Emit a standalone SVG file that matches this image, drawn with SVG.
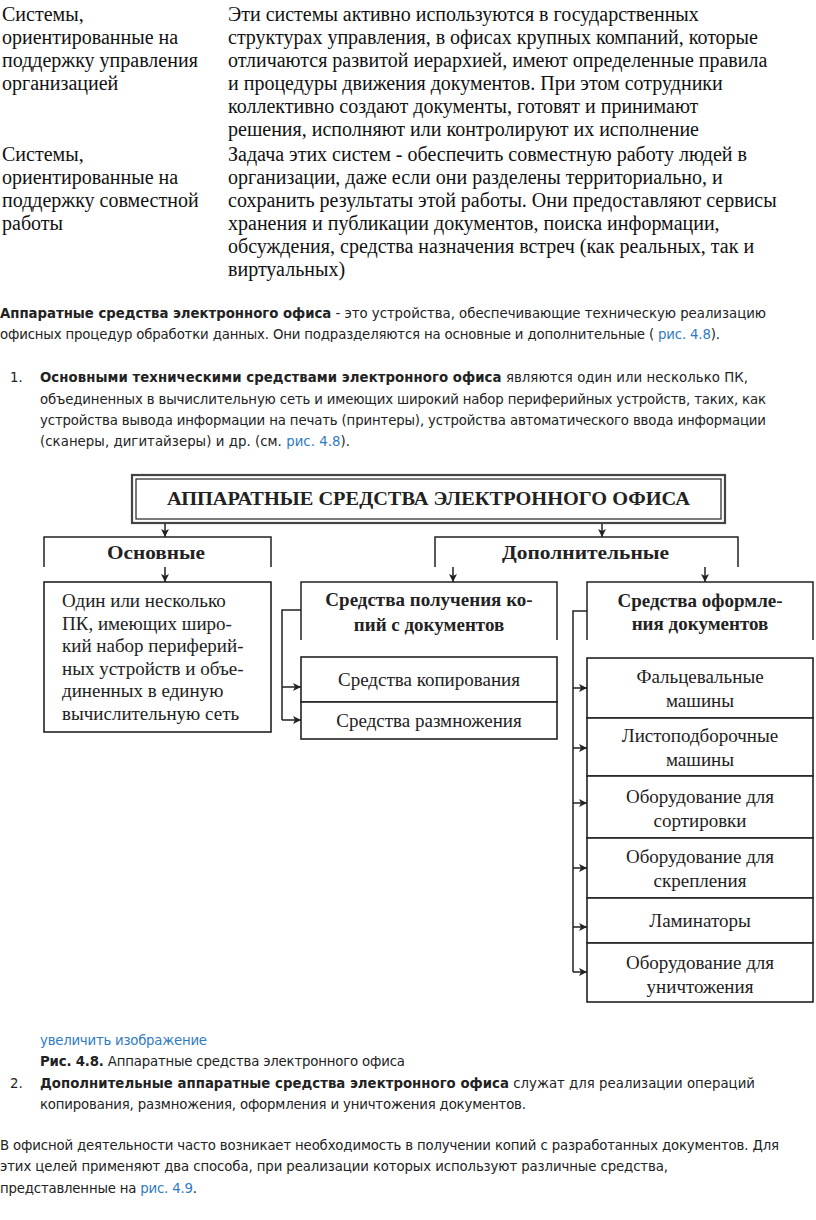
<svg xmlns="http://www.w3.org/2000/svg" width="816" height="1220" viewBox="0 0 816 1220">
<style>
.t{font-family:"Liberation Serif","Times New Roman",serif;font-size:20px;fill:#111}
.p{font-family:"DejaVu Sans",Verdana,sans-serif;font-size:13.3px;fill:#222}
.b{font-weight:bold}
.lnk{fill:#2f7bbf}
.d{font-family:"Liberation Serif","Times New Roman",serif;font-size:19px;fill:#222}
.dc{text-anchor:middle}
.ln{fill:none;stroke:#222;stroke-width:1.5}
.ar{fill:none;stroke:#222;stroke-width:1.5;marker-end:url(#ah)}
.bx{fill:#fff;stroke:#222;stroke-width:1.6}
</style>
<defs>
<marker id="ah" markerUnits="userSpaceOnUse" markerWidth="9" markerHeight="8" refX="8" refY="4" orient="auto">
<path d="M0,0 L8,4 L0,8 L2,4 z" fill="#222"/>
</marker>
</defs>
<rect width="816" height="1220" fill="#fff"/>

<g id="table-text">
<text class="t" x="2" y="21">Системы,</text>
<text class="t" x="2" y="44">ориентированные на</text>
<text class="t" x="2" y="67">поддержку управления</text>
<text class="t" x="2" y="90">организацией</text>
<text class="t" x="228" y="21">Эти системы активно используются в государственных</text>
<text class="t" x="228" y="44">структурах управления, в офисах крупных компаний, которые</text>
<text class="t" x="228" y="67">отличаются развитой иерархией, имеют определенные правила</text>
<text class="t" x="228" y="90">и процедуры движения документов. При этом сотрудники</text>
<text class="t" x="228" y="113">коллективно создают документы, готовят и принимают</text>
<text class="t" x="228" y="136">решения, исполняют или контролируют их исполнение</text>
<text class="t" x="2" y="161">Системы,</text>
<text class="t" x="2" y="184">ориентированные на</text>
<text class="t" x="2" y="207">поддержку совместной</text>
<text class="t" x="2" y="230">работы</text>
<text class="t" x="228" y="161">Задача этих систем - обеспечить совместную работу людей в</text>
<text class="t" x="228" y="184">организации, даже если они разделены территориально, и</text>
<text class="t" x="228" y="207">сохранить результаты этой работы. Они предоставляют сервисы</text>
<text class="t" x="228" y="230">хранения и публикации документов, поиска информации,</text>
<text class="t" x="228" y="253">обсуждения, средства назначения встреч (как реальных, так и</text>
<text class="t" x="228" y="276">виртуальных)</text>
</g>

<g id="para-text">
<text class="p" x="0" y="318" textLength="766"><tspan class="b">Аппаратные средства электронного офиса</tspan> - это устройства, обеспечивающие техническую реализацию</text>
<text class="p" x="0" y="339" textLength="720">офисных процедур обработки данных. Они подразделяются на основные и дополнительные ( <tspan class="lnk">рис. 4.8</tspan>).</text>
<text class="p" x="10" y="382">1.</text>
<text class="p" x="40" y="382" textLength="708"><tspan class="b">Основными техническими средствами электронного офиса</tspan> являются один или несколько ПК,</text>
<text class="p" x="40" y="404" textLength="726">объединенных в вычислительную сеть и имеющих широкий набор периферийных устройств, таких, как</text>
<text class="p" x="40" y="425" textLength="726">устройства вывода информации на печать (принтеры), устройства автоматического ввода информации</text>
<text class="p" x="40" y="446" textLength="310">(сканеры, дигитайзеры) и др. (см. <tspan class="lnk">рис. 4.8</tspan>).</text>
</g>

<g id="connectors">
<line class="ar" x1="165" y1="523" x2="165" y2="537"/>
<line class="ar" x1="602" y1="523" x2="602" y2="537"/>
<polyline class="ln" points="44,567 44,537 271,537 271,567"/>
<polyline class="ln" points="435,567 435,537 738,537 738,567"/>
<line class="ar" x1="165" y1="567" x2="165" y2="582"/>
<line class="ar" x1="453" y1="567" x2="453" y2="582"/>
<line class="ar" x1="705" y1="567" x2="705" y2="582"/>
<polyline class="ln" points="301,610 282,610 282,720"/>
<line class="ar" x1="282" y1="687" x2="301" y2="687"/>
<line class="ar" x1="282" y1="720" x2="301" y2="720"/>
<polyline class="ln" points="587,611 573,611 573,972"/>
<line class="ar" x1="573" y1="688" x2="587" y2="688"/>
<line class="ar" x1="573" y1="748" x2="587" y2="748"/>
<line class="ar" x1="573" y1="803" x2="587" y2="803"/>
<line class="ar" x1="573" y1="868" x2="587" y2="868"/>
<line class="ar" x1="573" y1="927" x2="587" y2="927"/>
<line class="ar" x1="573" y1="972" x2="587" y2="972"/>
</g>

<g id="n-title">
<rect x="132" y="475" width="593" height="48" fill="#fff" stroke="#444" stroke-width="2.2"/>
<rect x="136" y="479" width="585" height="40" fill="none" stroke="#222" stroke-width="1.2"/>
<text class="d b" x="167" y="505" font-size="18" textLength="523" lengthAdjust="spacingAndGlyphs">АППАРАТНЫЕ СРЕДСТВА ЭЛЕКТРОННОГО ОФИСА</text>
</g>
<g id="n-osnovnye">
<text class="d b" x="107" y="559" font-size="18" textLength="98" lengthAdjust="spacingAndGlyphs">Основные</text>
</g>
<g id="n-dop">
<text class="d b" x="502" y="559" font-size="18" textLength="167" lengthAdjust="spacingAndGlyphs">Дополнительные</text>
</g>
<g id="n-pk">
<rect class="bx" x="44" y="582" width="227" height="150"/>
<text class="d" x="62" y="607">Один или несколько</text>
<text class="d" x="62" y="629.5">ПК, имеющих широ-</text>
<text class="d" x="62" y="652">кий набор периферий-</text>
<text class="d" x="62" y="674.5">ных устройств и объе-</text>
<text class="d" x="62" y="697">диненных в единую</text>
<text class="d" x="62" y="719.5">вычислительную сеть</text>
</g>
<g id="n-kopii">
<polyline class="ln" points="301,640 301,582 557,582 557,640"/>
<text class="d b dc" x="429" y="606">Средства получения ко-</text>
<text class="d b dc" x="429" y="631">пий с документов</text>
</g>
<g id="n-kopir">
<rect class="bx" x="301" y="657" width="256" height="45"/>
<text class="d dc" x="429" y="686">Средства копирования</text>
</g>
<g id="n-razm">
<rect class="bx" x="301" y="702" width="256" height="37"/>
<text class="d dc" x="429" y="727">Средства размножения</text>
</g>
<g id="n-oform">
<polyline class="ln" points="587,640 587,582 813,582 813,640"/>
<text class="d b dc" x="700" y="607">Средства оформле-</text>
<text class="d b dc" x="700" y="630">ния документов</text>
</g>
<g id="n-falc">
<rect class="bx" x="587" y="658" width="226" height="60"/>
<text class="d dc" x="700" y="683">Фальцевальные</text>
<text class="d dc" x="700" y="707">машины</text>
</g>
<g id="n-listo">
<rect class="bx" x="587" y="718" width="226" height="58"/>
<text class="d dc" x="700" y="742">Листоподборочные</text>
<text class="d dc" x="700" y="766">машины</text>
</g>
<g id="n-sort">
<rect class="bx" x="587" y="776" width="226" height="62"/>
<text class="d dc" x="700" y="803">Оборудование для</text>
<text class="d dc" x="700" y="827">сортировки</text>
</g>
<g id="n-skrep">
<rect class="bx" x="587" y="838" width="226" height="60"/>
<text class="d dc" x="700" y="863">Оборудование для</text>
<text class="d dc" x="700" y="887">скрепления</text>
</g>
<g id="n-lamin">
<rect class="bx" x="587" y="898" width="226" height="45"/>
<text class="d dc" x="700" y="927">Ламинаторы</text>
</g>
<g id="n-unich">
<rect class="bx" x="587" y="943" width="226" height="59"/>
<text class="d dc" x="700" y="969">Оборудование для</text>
<text class="d dc" x="700" y="993">уничтожения</text>
</g>

<g id="bottom-text">
<text class="p lnk" x="40" y="1045" textLength="167">увеличить изображение</text>
<text class="p" x="40" y="1066" textLength="365"><tspan class="b">Рис. 4.8.</tspan> Аппаратные средства электронного офиса</text>
<text class="p" x="10" y="1088">2.</text>
<text class="p" x="40" y="1088" textLength="715"><tspan class="b">Дополнительные аппаратные средства электронного офиса</tspan> служат для реализации операций</text>
<text class="p" x="40" y="1109" textLength="486">копирования, размножения, оформления и уничтожения документов.</text>
<text class="p" x="0" y="1150" textLength="779">В офисной деятельности часто возникает необходимость в получении копий с разработанных документов. Для</text>
<text class="p" x="0" y="1171" textLength="668">этих целей применяют два способа, при реализации которых используют различные средства,</text>
<text class="p" x="0" y="1193" textLength="197">представленные на <tspan class="lnk">рис. 4.9</tspan>.</text>
</g>
</svg>
